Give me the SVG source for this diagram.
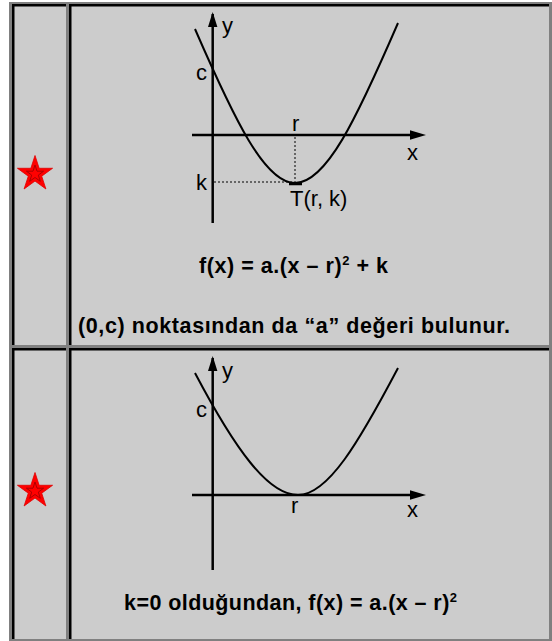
<svg xmlns="http://www.w3.org/2000/svg" width="552" height="641" viewBox="0 0 552 641">
<style>
.bg{fill:#cccccc}
.lt{fill:#808080}
.dk{fill:#000000}
.axis{stroke:#000;stroke-width:2.5;fill:none}
.curve{stroke:#000;stroke-width:2;fill:none}
.dot{stroke:#000;stroke-width:1;stroke-dasharray:2,2;fill:none}
.lbl{font-family:"Liberation Sans",Arial,sans-serif;font-size:22px;fill:#000}
.eq{font-family:"Liberation Sans",Arial,sans-serif;font-size:21.5px;font-weight:bold;fill:#000}
.sup{font-size:13px}
.star{fill:#ff0000;stroke:#e00000;stroke-width:0.8}
.starin{fill:none;stroke:#a00000;stroke-width:0.9}
</style>
<defs>
<g id="starShape">
<polygon class="star" points="0,-18.5 4.15,-5.72 17.59,-5.72 6.72,2.18 10.88,14.97 0,7.07 -10.88,14.97 -6.72,2.18 -17.59,-5.72 -4.15,-5.72"/>
<polygon class="starin" points="0,-9 2,-2.8 8.6,-2.8 3.3,1.1 5.3,7.3 0,3.5 -5.3,7.3 -3.3,1.1 -8.6,-2.8 -2,-2.8"/>
</g>
</defs>
<rect width="552" height="641" fill="#ffffff"/>
<g id="table">
<rect class="bg" x="9" y="2" width="543" height="639"/>
<rect class="lt" x="9" y="2" width="543" height="2"/>
<rect class="lt" x="9" y="2" width="3" height="639"/>
<rect class="dk" x="12" y="4" width="54" height="2.5"/>
<rect class="dk" x="12" y="4" width="2.5" height="341"/>
<rect class="lt" x="66" y="4" width="3" height="344"/>
<rect class="lt" x="12" y="345" width="57" height="3"/>
<rect class="dk" x="69" y="4" width="480" height="2.5"/>
<rect class="dk" x="69" y="4" width="2.5" height="341"/>
<rect class="lt" x="549" y="4" width="3" height="344"/>
<rect class="lt" x="69" y="345" width="483" height="3"/>
<rect class="dk" x="12" y="348" width="54" height="2.5"/>
<rect class="dk" x="12" y="348" width="2.5" height="291"/>
<rect class="lt" x="66" y="348" width="3" height="293"/>
<rect class="lt" x="12" y="639" width="57" height="2"/>
<rect class="dk" x="69" y="348" width="480" height="2.5"/>
<rect class="dk" x="69" y="348" width="2.5" height="291"/>
<rect class="lt" x="549" y="348" width="3" height="293"/>
<rect class="lt" x="69" y="639" width="483" height="2"/>
</g>
<g id="star1"><use href="#starShape" transform="translate(35,174)"/></g>
<g id="star2"><use href="#starShape" transform="translate(35,491)"/></g>
<g id="graph1">
<line class="axis" x1="212.7" y1="223" x2="212.7" y2="14"/>
<polygon points="212.7,12 208,27 217.4,27" fill="#000"/>
<line class="axis" x1="192" y1="135" x2="412" y2="135"/>
<polygon points="426,135 410,130.3 410,139.7" fill="#000"/>
<path class="curve" d="M195,29 C235,121 265,183 295,183 C326,183 356,120 398,23"/>
<line class="dot" x1="295" y1="137" x2="295" y2="182"/>
<line class="dot" x1="214" y1="182" x2="292" y2="182"/>
<line x1="289" y1="184" x2="302" y2="184" stroke="#000" stroke-width="2.5"/>
<text class="lbl" x="222" y="33">y</text>
<text class="lbl" x="196" y="80">c</text>
<text class="lbl" x="292" y="131">r</text>
<text class="lbl" x="407" y="160">x</text>
<text class="lbl" x="196" y="190">k</text>
<text class="lbl" x="290" y="206">T(r, k)</text>
</g>
<g id="graph2">
<line class="axis" x1="212.7" y1="570" x2="212.7" y2="358"/>
<polygon points="212.7,356 208,371 217.4,371" fill="#000"/>
<line class="axis" x1="192" y1="495" x2="412" y2="495"/>
<polygon points="426,495 410,490.3 410,499.7" fill="#000"/>
<path class="curve" d="M195,373 C235,449 268,495 298,495 C328,495 359,442 398,368"/>
<text class="lbl" x="222" y="378">y</text>
<text class="lbl" x="196" y="417">c</text>
<text class="lbl" x="291" y="513">r</text>
<text class="lbl" x="407" y="517">x</text>
</g>
<g id="texts">
<text class="eq" x="199" y="273" textLength="189" lengthAdjust="spacing">f(x) = a.(x – r)<tspan class="sup" dy="-8">2</tspan><tspan dy="8"> + k</tspan></text>
<text class="eq" x="78" y="333" textLength="432" lengthAdjust="spacing">(0,c) noktasından da “a” değeri bulunur.</text>
<text class="eq" x="124" y="610" textLength="333" lengthAdjust="spacing">k=0 olduğundan, f(x) = a.(x – r)<tspan class="sup" dy="-8">2</tspan></text>
</g>
</svg>
